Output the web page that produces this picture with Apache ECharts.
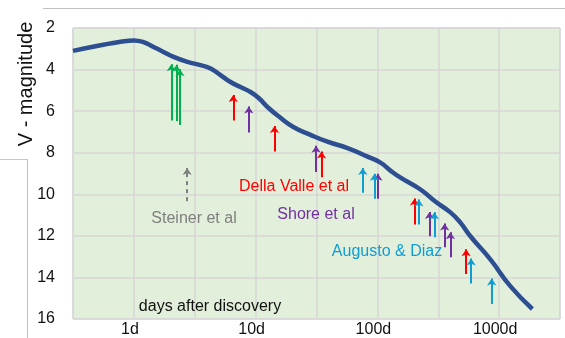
<!DOCTYPE html>
<html><head><meta charset="utf-8">
<script src="https://cdn.jsdelivr.net/npm/echarts@6/dist/echarts.min.js"></script>
<style>html,body{margin:0;padding:0;background:#fff}#c{width:565px;height:338px}</style>
</head><body><div id="c"></div>
<script>
// Light curve (days after discovery, V magnitude)
const curveDays = [0.316, 0.533, 0.778, 1.0, 1.2, 1.45, 1.75, 2.12, 2.76, 3.53, 4.27, 5.15, 6.22, 7.51, 9.08, 10.6, 12.5, 16.0, 20.4, 28.2, 38.9, 56.9, 83.0, 106, 128, 155, 226, 299, 398, 479, 581, 847, 1236, 1875];
const curveMag  = [3.10, 2.83, 2.66, 2.60, 2.68, 2.91, 3.15, 3.39, 3.63, 3.79, 3.95, 4.27, 4.60, 4.84, 5.08, 5.37, 5.80, 6.32, 6.76, 7.14, 7.47, 7.78, 8.19, 8.48, 8.86, 9.20, 9.77, 10.35, 10.87, 11.35, 12.02, 13.13, 14.42, 15.52];

// Observation arrows: day, top magnitude (arrow tip), bottom magnitude
const greenDays   = [2.03, 2.24, 2.39];
const greenTop    = [3.74, 3.77, 3.99];
const greenBottom = [6.45, 6.47, 6.67];

const steinerDays   = [2.74];
const steinerTop    = [8.73];
const steinerBottom = [10.33];

const dellaDays   = [6.55, 14.3, 34.8, 202, 536];
const dellaTop    = [5.22, 6.71, 7.94, 10.20, 12.65];
const dellaBottom = [6.45, 7.94, 9.18, 11.45, 13.84];

const shoreDays   = [8.79, 31.4, 101, 268, 357, 398];
const shoreTop    = [5.78, 7.67, 9.01, 10.85, 11.40, 11.83];
const shoreBottom = [7.03, 8.93, 10.22, 12.02, 12.55, 13.03];

const augDays   = [75.9, 94.7, 219, 294, 589, 869];
const augTop    = [8.73, 9.01, 10.25, 10.87, 13.09, 14.05];
const augBottom = [9.93, 10.22, 11.45, 12.07, 14.29, 15.28];

const yTicks = [2, 4, 6, 8, 10, 12, 14, 16];
const xTickLabels = {0: '1d', 1: '10d', 2: '100d', 3: '1000d'};

function arrows(days, top, bottom) {
  return days.map((d, i) => ({coords: [[d, bottom[i]], [d, top[i]]]}));
}
function arrowSeries(name, days, top, bottom, color, dashed) {
  return {
    name: name, type: 'lines', coordinateSystem: 'cartesian2d',
    xAxisIndex: 0, yAxisIndex: 0,
    symbol: ['none', 'arrow'], symbolSize: [6, 7],
    lineStyle: {color: color, width: 2, type: dashed ? [4, 4] : 'solid', opacity: 1},
    data: arrows(days, top, bottom), z: 3, silent: true
  };
}

const chart = echarts.init(document.getElementById('c'), null, {renderer: 'canvas'});
const fontFam = '"Liberation Sans", Arial, sans-serif';
chart.setOption({
  animation: false,
  grid: {left: 73, top: 28, right: 5, bottom: 18, show: true, backgroundColor: '#e2efda', borderColor: '#d9d9d9', borderWidth: 1},
  xAxis: [{
    type: 'log', logBase: 10, min: Math.pow(10, -0.5), max: Math.pow(10, 3.5),
    axisLine: {show: false}, axisTick: {show: false}, splitLine: {show: false},
    axisLabel: {
      color: '#111', fontSize: 16, fontFamily: fontFam, margin: 3, padding: [0, 8, 0, 0],
      showMinLabel: false, showMaxLabel: false,
      formatter: function (v) {
        const l = Math.log10(v); const r = Math.round(l);
        return Math.abs(l - r) < 1e-6 && xTickLabels[r] !== undefined ? xTickLabels[r] : '';
      }
    }
  }, {
    type: 'value', min: -0.5, max: 3.5, interval: 0.5, position: 'top',
    axisLine: {show: false}, axisTick: {show: false}, axisLabel: {show: false},
    splitLine: {show: true, lineStyle: {color: '#d6d6d6', width: 1.5}}
  }],
  yAxis: {
    type: 'value', inverse: true, min: yTicks[0], max: yTicks[yTicks.length - 1], interval: 2,
    axisLine: {show: false}, axisTick: {show: false},
    axisLabel: {color: '#111', fontSize: 16, fontFamily: fontFam, margin: 18},
    splitLine: {show: true, lineStyle: {color: '#d6d6d6', width: 1.5}}
  },
  series: [
    {
      name: 'V', type: 'line', xAxisIndex: 0, yAxisIndex: 0,
      data: curveDays.map((d, i) => [d, curveMag[i]]),
      smooth: 0.5, showSymbol: false, lineStyle: {color: '#2d4f91', width: 4.5}, z: 4
    },
    arrowSeries('green', greenDays, greenTop, greenBottom, '#00b050', false),
    arrowSeries('Steiner', steinerDays, steinerTop, steinerBottom, '#7f7f7f', true),
    arrowSeries('Della Valle', dellaDays, dellaTop, dellaBottom, '#ff0000', false),
    arrowSeries('Shore', shoreDays, shoreTop, shoreBottom, '#7030a0', false),
    arrowSeries('Augusto', augDays, augTop, augBottom, '#0e9dd4', false)
  ],
  graphic: [
    {type: 'line', shape: {x1: 43, y1: 8.5, x2: 565, y2: 8.5}, style: {stroke: '#c0c0c0', lineWidth: 1}, silent: true},
    {type: 'line', shape: {x1: 27.5, y1: 159, x2: 27.5, y2: 338}, style: {stroke: '#c0c0c0', lineWidth: 1}, silent: true},
    {type: 'line', shape: {x1: 0, y1: 159.5, x2: 27.5, y2: 159.5}, style: {stroke: '#c8c8c8', lineWidth: 1}, silent: true},
    {type: 'text', x: 26, y: 84, rotation: Math.PI / 2, style: {text: 'V - magnitude', fontSize: 20, fontFamily: fontFam, fill: '#111', align: 'center', verticalAlign: 'middle'}, silent: true},
    {type: 'text', x: 294, y: 187, style: {text: 'Della Valle et al', fontSize: 16, fontFamily: fontFam, fill: '#ff0000', align: 'center', verticalAlign: 'middle'}, z: 10},
    {type: 'text', x: 316, y: 215, style: {text: 'Shore et al', fontSize: 16, fontFamily: fontFam, fill: '#7030a0', align: 'center', verticalAlign: 'middle'}, z: 10},
    {type: 'text', x: 194, y: 219, style: {text: 'Steiner et al', fontSize: 16, fontFamily: fontFam, fill: '#7f7f7f', align: 'center', verticalAlign: 'middle'}, z: 10},
    {type: 'text', x: 387, y: 252, style: {text: 'Augusto & Diaz', fontSize: 16, fontFamily: fontFam, fill: '#0e9dd4', align: 'center', verticalAlign: 'middle'}, z: 10},
    {type: 'text', x: 210, y: 307, style: {text: 'days after discovery', fontSize: 16, fontFamily: fontFam, fill: '#111', align: 'center', verticalAlign: 'middle'}, z: 10}
  ]
});
</script></body></html>
